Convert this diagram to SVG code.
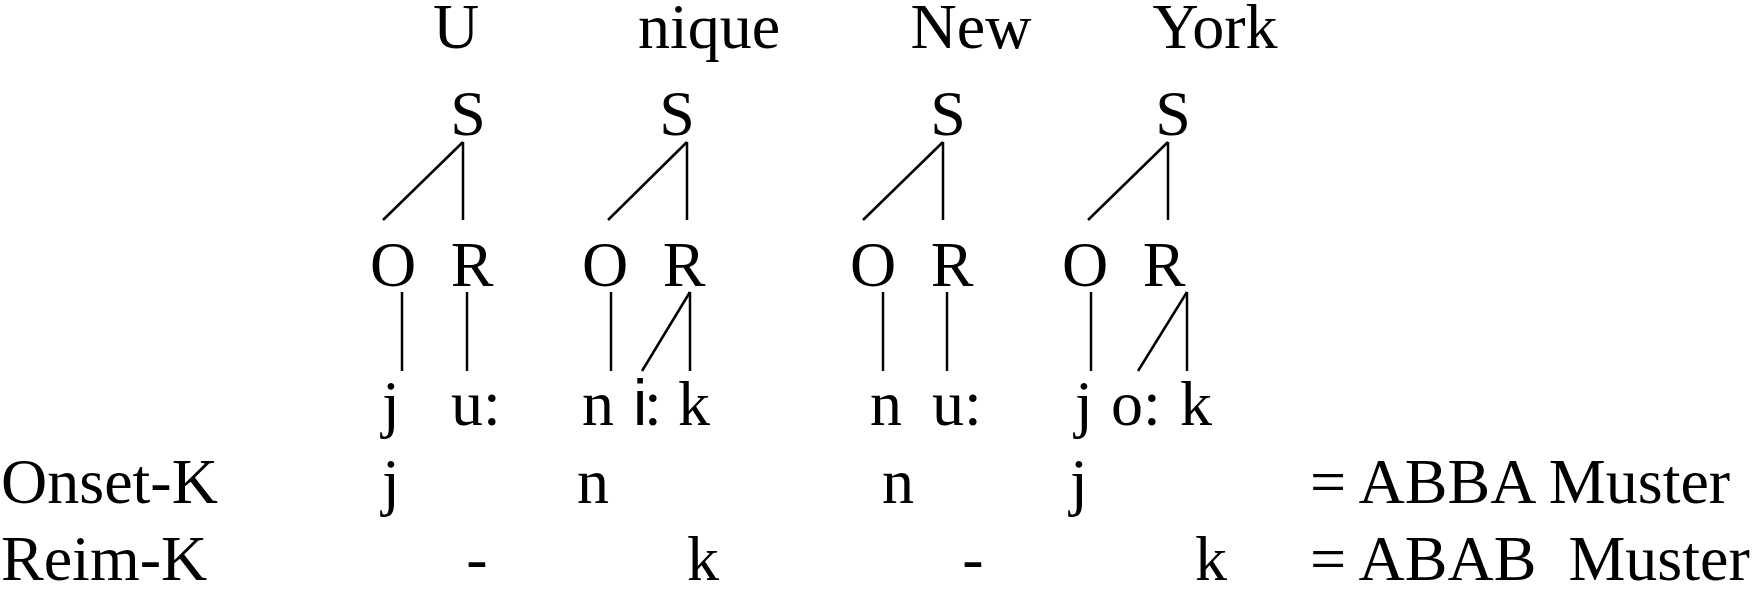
<svg xmlns="http://www.w3.org/2000/svg" width="1754" height="589" viewBox="0 0 1754 589">
<defs>
<style>
line{stroke:#000;stroke-width:2.5}
</style>
</defs>
<rect width="1754" height="589" fill="#fff"/>
<g font-family="Liberation Serif, Times New Roman, DejaVu Serif, serif" font-size="64" fill="#000">
<g id="words" text-anchor="middle">
<text x="456" y="48">U</text>
<text x="709" y="48">nique</text>
<text x="971" y="48">New</text>
<text x="1215" y="48">York</text>
</g>
<g id="syl1" text-anchor="middle">
<text x="468" y="135">S</text>
<text x="393" y="286">O</text>
<text x="472" y="286">R</text>
<text x="391" y="425">j</text>
<text x="476" y="425">u:</text>
</g>
<g id="syl2" text-anchor="middle">
<text x="677" y="135">S</text>
<text x="605" y="286">O</text>
<text x="684" y="286">R</text>
<text x="598" y="425">n</text>
<text x="640" y="425" font-family="Liberation Sans, Arial, sans-serif">i</text>
<text x="653" y="425">:</text>
<text x="694" y="425">k</text>
</g>
<g id="syl3" text-anchor="middle">
<text x="948" y="135">S</text>
<text x="873" y="286">O</text>
<text x="952" y="286">R</text>
<text x="886" y="425">n</text>
<text x="957" y="425">u:</text>
</g>
<g id="syl4" text-anchor="middle">
<text x="1173" y="135">S</text>
<text x="1085" y="286">O</text>
<text x="1164" y="286">R</text>
<text x="1084" y="425">j</text>
<text x="1136" y="425">o:</text>
<text x="1196" y="425">k</text>
</g>
<g id="onset-row">
<text x="1" y="503">Onset-K</text>
<text x="391" y="503" text-anchor="middle">j</text>
<text x="593" y="503" text-anchor="middle">n</text>
<text x="898" y="503" text-anchor="middle">n</text>
<text x="1079" y="503" text-anchor="middle">j</text>
<text x="1310" y="503">= ABBA Muster</text>
</g>
<g id="reim-row">
<text x="1" y="580">Reim-K</text>
<text x="477" y="580" text-anchor="middle">-</text>
<text x="703" y="580" text-anchor="middle">k</text>
<text x="973" y="580" text-anchor="middle">-</text>
<text x="1211" y="580" text-anchor="middle">k</text>
<text x="1310" y="580" xml:space="preserve">= ABAB  Muster</text>
</g>
</g>
<g id="connectors">
<line x1="463" y1="142" x2="383" y2="220"/>
<line x1="463" y1="142" x2="463" y2="220"/>
<line x1="687" y1="142" x2="608" y2="220"/>
<line x1="687" y1="142" x2="687" y2="220"/>
<line x1="943" y1="142" x2="863" y2="220"/>
<line x1="943" y1="142" x2="943" y2="220"/>
<line x1="1168" y1="142" x2="1088" y2="220"/>
<line x1="1168" y1="142" x2="1168" y2="220"/>
<line x1="402" y1="292" x2="402" y2="371"/>
<line x1="467" y1="292" x2="467" y2="371"/>
<line x1="611" y1="292" x2="611" y2="371"/>
<line x1="690" y1="292" x2="690" y2="371"/>
<line x1="690" y1="292" x2="642" y2="371"/>
<line x1="883" y1="292" x2="883" y2="371"/>
<line x1="947" y1="292" x2="947" y2="371"/>
<line x1="1091" y1="292" x2="1091" y2="371"/>
<line x1="1187" y1="292" x2="1187" y2="371"/>
<line x1="1187" y1="292" x2="1138" y2="371"/>
</g>
</svg>
